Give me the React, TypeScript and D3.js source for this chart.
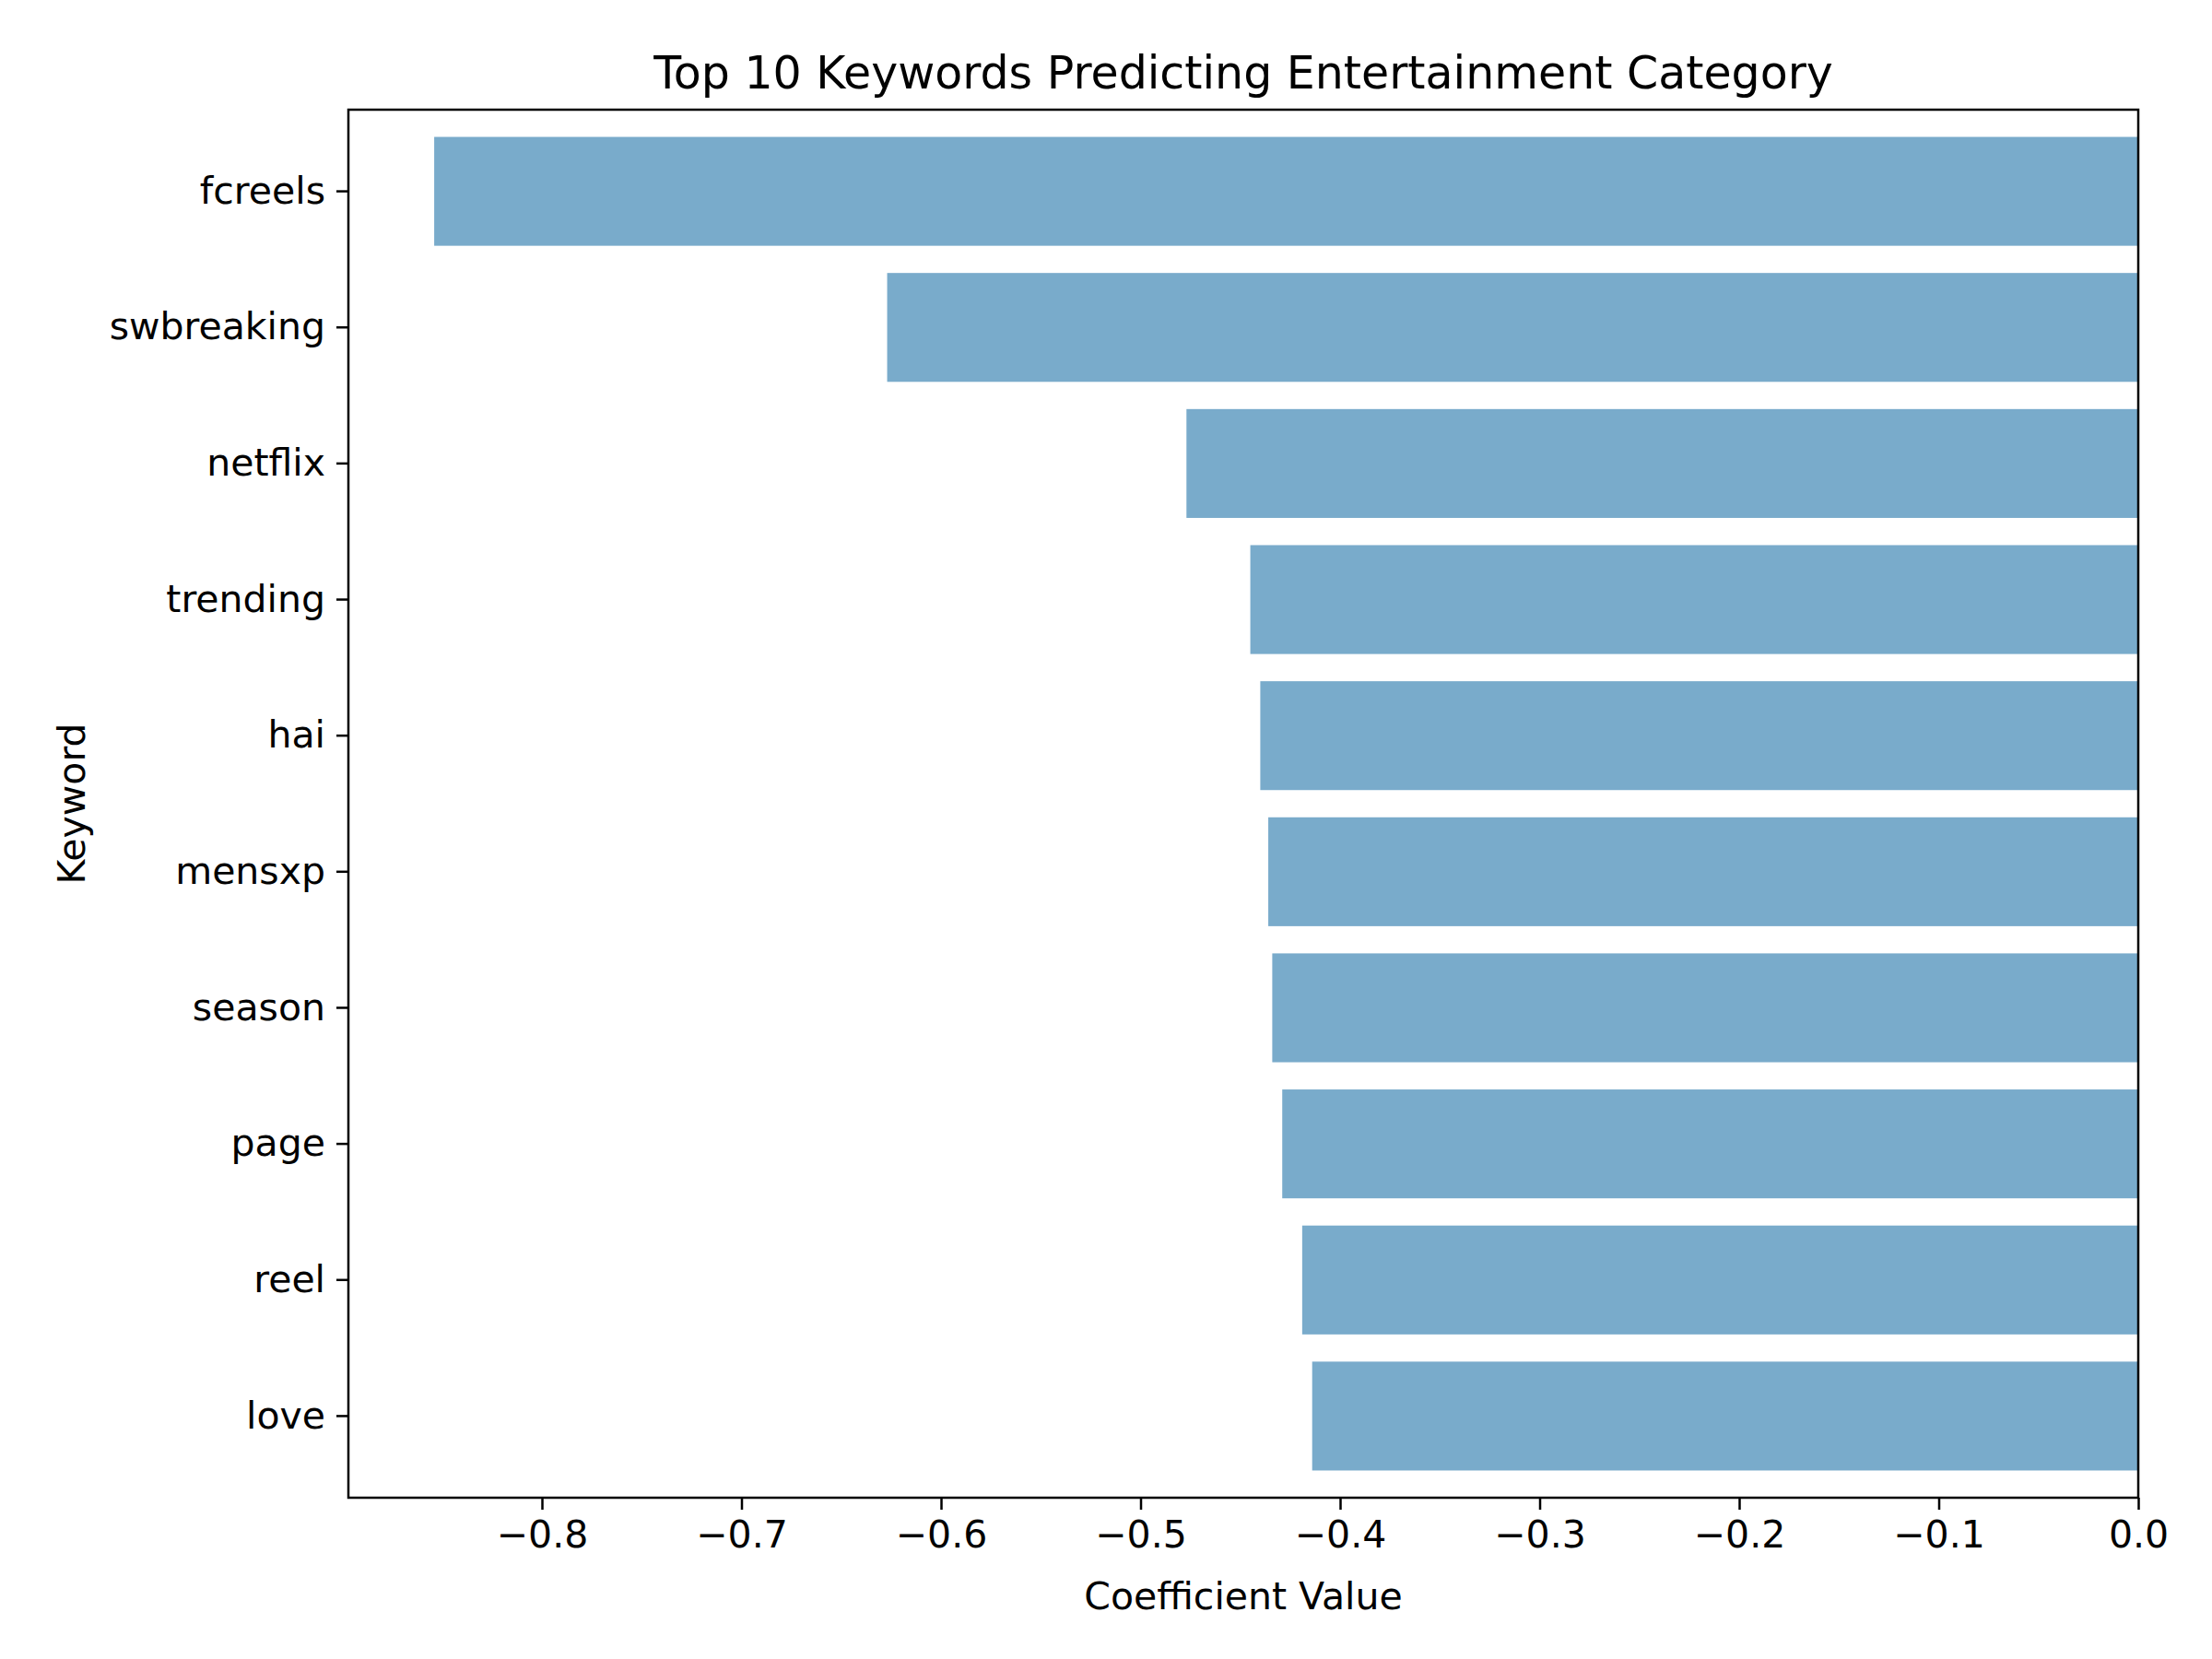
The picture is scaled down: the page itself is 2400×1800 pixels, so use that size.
import { useRef, useEffect } from 'react';
import * as d3 from 'd3';

const keywords = ['fcreels', 'swbreaking', 'netflix', 'trending', 'hai', 'mensxp', 'season', 'page', 'reel', 'love'];
const coefficients = [-0.854, -0.627, -0.477, -0.445, -0.44, -0.436, -0.434, -0.429, -0.419, -0.414];
const xTicks = [-0.8, -0.7, -0.6, -0.5, -0.4, -0.3, -0.2, -0.1, 0.0];

const width = 2400;
const height = 1800;
const margin = { top: 111, right: 88, bottom: 183, left: 370 };
const font = 'DejaVu Sans, sans-serif';

export default function App() {
  const ref = useRef<SVGSVGElement>(null);

  useEffect(() => {
    if (!ref.current) return;
    const svg = d3.select(ref.current);
    svg.selectAll('*').remove();

    const innerWidth = width - margin.left - margin.right;
    const innerHeight = height - margin.top - margin.bottom;
    const data = keywords.map((k, i) => ({ k, v: coefficients[i] }));

    const x = d3.scaleLinear().domain([-0.897, 0]).range([0, innerWidth]);
    const y = d3.scaleBand().domain(keywords).range([0, innerHeight]).padding(0.2);

    svg.append('rect').attr('width', width).attr('height', height).attr('fill', '#fff');

    const g = svg.append('g').attr('transform', `translate(${margin.left},${margin.top})`);

    g.selectAll('rect.bar')
      .data(data)
      .enter()
      .append('rect')
      .attr('class', 'bar')
      .attr('x', (d) => x(d.v))
      .attr('y', (d) => y(d.k)!)
      .attr('width', (d) => x(0) - x(d.v))
      .attr('height', y.bandwidth())
      .attr('fill', '#79abcb');

    // frame
    g.append('rect')
      .attr('width', innerWidth)
      .attr('height', innerHeight)
      .attr('fill', 'none')
      .attr('stroke', '#000')
      .attr('stroke-width', 2.5);

    const xAxis = g
      .append('g')
      .attr('transform', `translate(0,${innerHeight})`)
      .call(
        d3.axisBottom(x)
          .tickValues(xTicks)
          .tickSize(13)
          .tickPadding(12)
          .tickFormat((d) => d3.format('.1f')(d as number).replace('-', '\u2212'))
      );
    xAxis.select('.domain').remove();
    xAxis.selectAll('line').attr('stroke-width', 2.5);
    xAxis.selectAll('text').attr('font-size', 41).attr('font-family', font).attr('fill', '#000');

    const yAxis = g.append('g').call(d3.axisLeft(y).tickSize(13).tickPadding(12));
    yAxis.select('.domain').remove();
    yAxis.selectAll('line').attr('stroke-width', 2.5);
    yAxis.selectAll('text').attr('font-size', 41).attr('font-family', font).attr('fill', '#000');

    svg.append('text')
      .attr('x', margin.left + innerWidth / 2)
      .attr('y', 1738)
      .attr('text-anchor', 'middle')
      .attr('font-size', 41)
      .attr('font-family', font)
      .text('Coefficient Value');

    svg.append('text')
      .attr('transform', `translate(84,${margin.top + innerHeight / 2}) rotate(-90)`)
      .attr('text-anchor', 'middle')
      .attr('font-size', 41)
      .attr('font-family', font)
      .text('Keyword');

    svg.append('text')
      .attr('x', margin.left + innerWidth / 2)
      .attr('y', 88)
      .attr('text-anchor', 'middle')
      .attr('font-size', 49)
      .attr('font-family', font)
      .text('Top 10 Keywords Predicting Entertainment Category');
  }, []);

  return <svg ref={ref} width={width} height={height} style={{ display: 'block' }} />;
}
